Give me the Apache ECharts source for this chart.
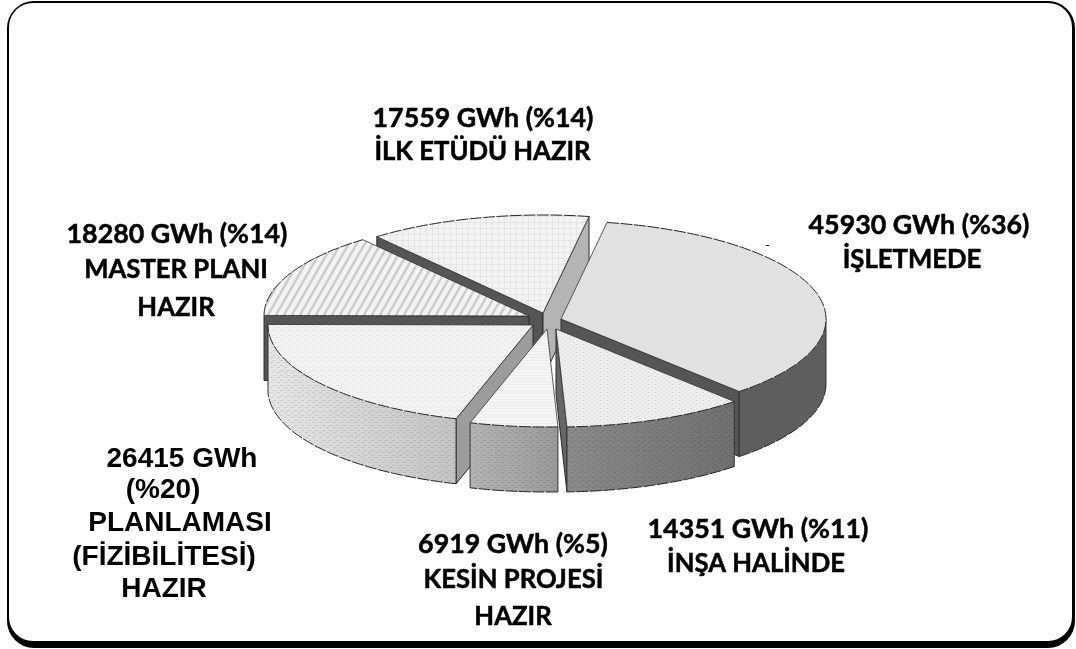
<!DOCTYPE html>
<html><head><meta charset="utf-8">
<style>html,body{margin:0;padding:0;background:#fff}#c{width:1076px;height:649px}</style>
<script src="https://cdn.jsdelivr.net/npm/echarts@6/dist/echarts.min.js"></script>
</head><body><div id="c"></div>
<script>
// ---- data ----
const categories = ['İŞLETMEDE','İNŞA HALİNDE','KESİN PROJESİ HAZIR','PLANLAMASI (FİZİBİLİTESİ) HAZIR','MASTER PLANI HAZIR','İLK ETÜDÜ HAZIR'];
const values = [45930,14351,6919,26415,18280,17559];
const percents = [36,11,5,20,14,14];
// ---- text lines of each label, same order as categories ----
const nameLines = [['İŞLETMEDE'],['İNŞA HALİNDE'],['KESİN PROJESİ','HAZIR'],['PLANLAMASI','(FİZİBİLİTESİ)','HAZIR'],['MASTER PLANI','HAZIR'],['İLK ETÜDÜ HAZIR']];
// ---- layout ----
const RX=265, RY=98, DEPTH=65, START=-80;
const centers=[[561,319],[556,329],[547,329],[533,325],[529,316],[543,313]];
const paintRank=[2,5,4,3,1,0];
const CAL='Lato', HEADSIZE=26.8, NAMESIZE=25.7, ARIAL='"Liberation Sans"', ARSIZE=28;
const labelPos=[
 {x:[919,912],y:[225,260]},
 {x:[758,756],y:[529,564]},
 {x:[513,513.5,513],y:[544,580,617]},
 {x:[182,163,180,164,164],y:[459,490,523,557,589],arial:true,breakValue:true},
 {x:[177,176,176],y:[234,270,308]},
 {x:[483,482.5],y:[118,152]}
];
function patt(w,h,draw){const c=document.createElement('canvas');c.width=w;c.height=h;draw(c.getContext('2d'),w,h);return {image:c,repeat:'repeat'};}
const P={
 dots:patt(6,4,(g,w,h)=>{g.fillStyle='#eeeeee';g.fillRect(0,0,w,h);g.fillStyle='#dcdcdc';g.fillRect(0,0,2,1);g.fillRect(3,2,2,1);}),
 hlines:patt(4,3,(g,w,h)=>{g.fillStyle='#f5f5f5';g.fillRect(0,0,w,h);g.fillStyle='#ececec';g.fillRect(0,0,w,1);}),
 waves:patt(8,5,(g,w,h)=>{g.fillStyle='#f2f2f2';g.fillRect(0,0,w,h);g.fillStyle='#e6e6e6';g.fillRect(0,0,3,1);g.fillRect(4,2,3,1);}),
 stripes:patt(8,14,(g,w,h)=>{g.fillStyle='#f4f4f4';g.fillRect(0,0,w,h);g.strokeStyle='#cccccc';g.lineWidth=2.6;
   for(let i=-2;i<3;i++){g.beginPath();g.moveTo(i*8,h);g.lineTo(i*8+8,0);g.stroke();}}),
 grid:patt(6,6,(g,w,h)=>{g.fillStyle='#f3f3f3';g.fillRect(0,0,w,h);g.fillStyle='#e5e5e5';g.fillRect(0,0,w,1);g.fillRect(0,0,1,h);}),
 overDots:patt(7,5,(g,w,h)=>{g.fillStyle='rgba(0,0,0,0.10)';g.fillRect(0,0,3,1);g.fillRect(4,2,3,1);}),
};
function grad(a,b){return new echarts.graphic.LinearGradient(0,0,1,0,[{offset:0,color:a},{offset:1,color:b}]);}
const looks=[
 {top:'#e1e1e1',wall:'#5e5e5e',wallEnd:'#5e5e5e',side:'#555555',over:false},
 {top:P.dots,wall:'#8a8a8a',wallEnd:'#707070',side:'#666666',over:true},
 {top:P.hlines,wall:'#b4b4b4',wallEnd:'#9a9a9a',side:'#a8a8a8',over:true},
 {top:P.waves,wall:'#e6e6e6',wallEnd:'#c4c4c4',side:'#9c9c9c',over:true},
 {top:P.stripes,wall:'#cccccc',wallEnd:'#cccccc',side:'#555555',over:false},
 {top:P.grid,wall:'#cccccc',wallEnd:'#cccccc',side:'#555555',sideEnd:'#b4b4b4',over:false},
];
const total=values.reduce((a,b)=>a+b,0);
const rad=d=>d*Math.PI/180;
function renderItem(params,api){
 const i=params.dataIndex; const v=api.value(0);
 let before=0; for(let k=0;k<i;k++) before+=values[k];
 const t0=START+before/total*360, t1=t0+v/total*360;
 const [cx,cy]=centers[i]; const look=looks[i];
 const pt=(t,dy=0)=>[cx+RX*Math.cos(rad(t)),cy+RY*Math.sin(rad(t))+dy];
 const arc=(a,b,dy=0)=>{const o=[];const n=Math.max(2,Math.ceil(Math.abs(b-a)));for(let j=0;j<=n;j++)o.push(pt(a+(b-a)*j/n,dy));return o;};
 const kids=[]; let z=paintRank[i]*10;
 const poly=(pts,style)=>kids.push({type:'polygon',z2:z++,shape:{points:pts},style});
 const line=(pts,style)=>kids.push({type:'polyline',z2:z++,shape:{points:pts},style:Object.assign({fill:null},style)});
 const mid=pt((t0+t1)/2);
 const faces=(r)=>{const d=[r[0]-cx,r[1]-cy],m=[mid[0]-cx,mid[1]-cy];
   return (d[0]*DEPTH)*(d[0]*m[1]-d[1]*m[0])<0;};
 // radial walls that face the viewer
 [t0,t1].forEach((t,idx)=>{const r=pt(t); if(!faces(r))return;
   const col=(idx===1&&look.sideEnd)?look.sideEnd:look.side;
   poly([[cx,cy],r,[r[0],r[1]+DEPTH],[cx,cy+DEPTH]],{fill:col,stroke:'#2a2a2a',lineWidth:1});
 });
 // outer wall: the front half of the rim only
 [[Math.max(t0,0),Math.min(t1,180)],[Math.max(t0,360),Math.min(t1,540)]].forEach(([s,e])=>{ if(e<=s) return;
   const shape=arc(s,e).concat(arc(e,s,DEPTH));
   poly(shape,{fill:grad(look.wall,look.wallEnd)});
   if(look.over) poly(shape,{fill:P.overDots});
   line(arc(s,e,DEPTH),{stroke:'#222',lineWidth:1,lineDash:[12,1.5]});
   [s,e].forEach(q=>{const x=pt(q);line([x,[x[0],x[1]+DEPTH]],{stroke:'#333',lineWidth:1});});
 });
 // top face
 poly([[cx,cy]].concat(arc(t0,t1)),{fill:look.top});
 line(arc(t0,t1),{stroke:'#222',lineWidth:1,lineDash:[12,1.5]});
 line([pt(t0),[cx,cy],pt(t1)],{stroke:'#333',lineWidth:0.8});
 return {type:'group',children:kids};
}
const texts=[];
categories.forEach((c,i)=>{
 const p=labelPos[i];
 const heads=p.breakValue?[`${values[i]} GWh`,`(%${percents[i]})`]:[`${values[i]} GWh (%${percents[i]})`];
 heads.concat(nameLines[i]).forEach((s,j)=>{
   const size=p.arial?ARSIZE:(j<heads.length?HEADSIZE:NAMESIZE);
   texts.push({type:'text',z:100,x:p.x[j],y:p.y[j],style:{text:s,fill:'#000',stroke:'#000',lineWidth:p.arial?0:0.5,
     font:`bold ${size}px ${p.arial?ARIAL:CAL}`,textAlign:'center',textVerticalAlign:'middle'}});
 });
});
const frame=[
 {type:'rect',z:0,shape:{x:7,y:1,width:1068,height:647,r:27},style:{fill:'#000'}},
 {type:'rect',z:0,shape:{x:9,y:3,width:1063,height:638,r:24},style:{fill:'#fff'}},
 {type:'rect',z:100,shape:{x:766,y:245,width:3,height:1},style:{fill:'#000'}},
];
const chart=echarts.init(document.getElementById('c'));
chart.setOption({animation:false,backgroundColor:'#fff',
 graphic:{elements:frame.concat(texts)},
 series:[{type:'custom',coordinateSystem:'none',z:2,data:values.map(v=>[v]),renderItem,silent:true}]
});
</script></body></html>
